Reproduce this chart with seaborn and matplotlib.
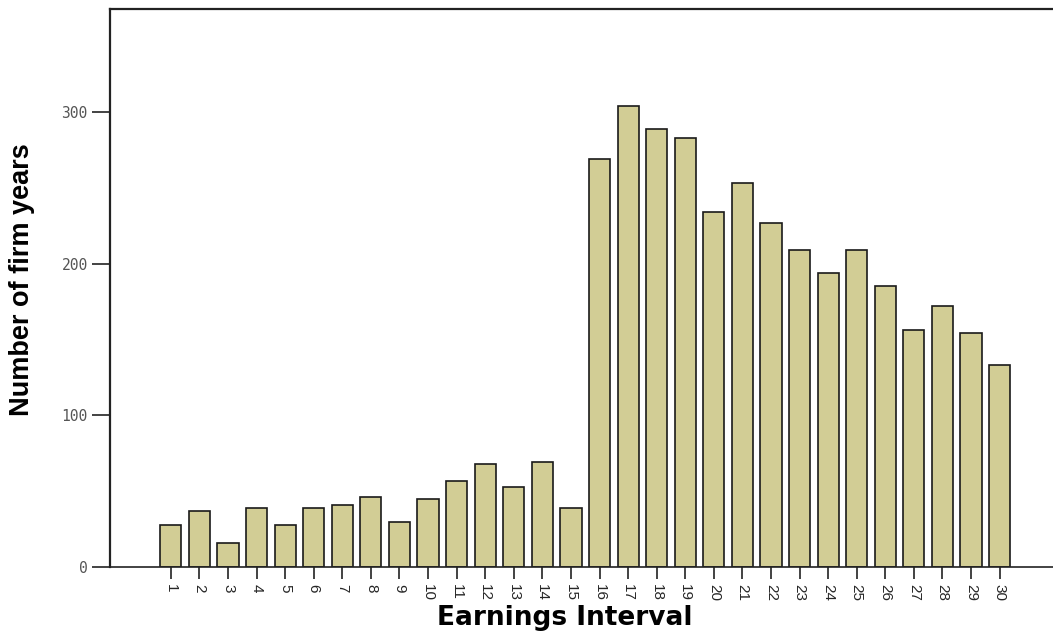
import matplotlib
matplotlib.use("Agg")
import matplotlib.pyplot as plt
import seaborn as sns
import pandas as pd

intervals = [str(i) for i in range(1, 31)]
counts = [28, 37, 16, 39, 28, 39, 41, 46, 30, 45,
          57, 68, 53, 69, 39, 269, 304, 289, 283, 234,
          253, 227, 209, 194, 209, 185, 156, 172, 154, 133]
y_ticks = [0, 100, 200, 300]

df = pd.DataFrame({"interval": intervals, "count": counts})

sns.set_style("white")
fig = plt.figure(figsize=(10.53, 6.33), dpi=100)
ax = fig.add_axes([110/1053, 1 - 567/633, 1 - 110/1053, (567 - 9)/633])

sns.barplot(data=df, x="interval", y="count", order=intervals,
            color="#d2cd95", saturation=1, width=0.74,
            edgecolor="#1a1a1a", linewidth=1.2, ax=ax)

ax.set_xlim(-2.13, 30.87)
ax.set_ylim(0, 368)
ax.set_yticks(y_ticks)
ax.set_yticklabels([str(v) for v in y_ticks], fontsize=10.5, color="#555555",
                   family="DejaVu Sans Mono")
ax.set_xticks(range(len(intervals)))
ax.set_xticklabels(intervals, rotation=270, fontsize=11,
                   family="Liberation Sans")

ax.tick_params(axis="y", direction="out", length=13, width=1.2, pad=3,
               left=True, color="#222222")
ax.tick_params(axis="x", direction="out", length=8.6, width=1.2, pad=4,
               bottom=True, color="#222222")

for s in ["left", "top", "bottom"]:
    ax.spines[s].set_visible(True)
    ax.spines[s].set_color("#222222")
ax.spines["left"].set_linewidth(1.6)
ax.spines["top"].set_linewidth(1.6)
ax.spines["bottom"].set_linewidth(1.2)
ax.spines["right"].set_visible(False)

ax.set_ylabel("Number of firm years", family="Liberation Sans",
              fontweight="bold", fontsize=19.5, color="black")
ax.yaxis.set_label_coords(-(110 - 22) / 943, (567 - 280) / 558)
ax.set_xlabel("Earnings Interval", family="DejaVu Sans", fontweight="bold",
              fontsize=19, color="black")
ax.xaxis.set_label_coords((565 - 110) / 943, -(618 - 567) / 558)
ax.xaxis.label.set_va("center")
ax.yaxis.label.set_va("center")

fig.savefig("out.png", dpi=100)
